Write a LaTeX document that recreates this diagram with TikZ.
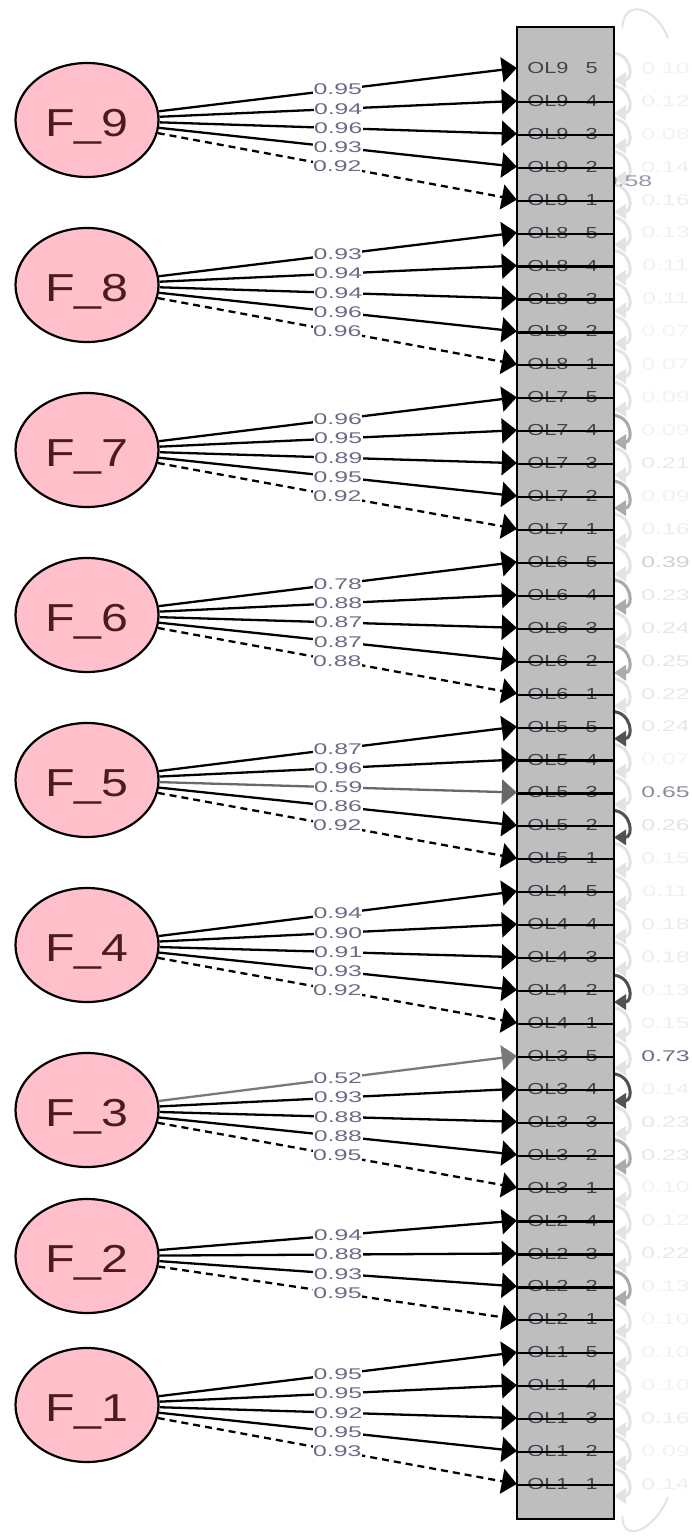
\documentclass[tikz,border=0pt]{standalone}
\usepackage{fontspec}
\setmainfont{Liberation Sans}
\usetikzlibrary{arrows.meta,shapes.geometric}
\definecolor{latfill}{HTML}{FFC0CB}
\definecolor{boxfill}{HTML}{BEBEBE}
\definecolor{labcol}{HTML}{6A6C86}
\definecolor{indcol}{HTML}{42424E}
\definecolor{latcol}{HTML}{4B1C1C}
\definecolor{reslight}{HTML}{E3E3E3}
\definecolor{resmid}{HTML}{ABABAB}
\definecolor{resdark}{HTML}{525252}
\definecolor{edgegray}{HTML}{686868}
\definecolor{edgegrayb}{HTML}{7A7A7A}
\tikzset{
  latent/.style={ellipse, draw=black, line width=2.2pt, fill=latfill, minimum width=143pt, minimum height=114pt, inner sep=0pt},
  lattext/.style={text=latcol, inner sep=0pt, font=\fontsize{39}{39}\selectfont},
  ind/.style={rectangle, minimum width=97pt, minimum height=32.93pt, inner sep=0pt},
  indtext/.style={text=indcol, inner sep=0pt, font=\fontsize{16}{16}\selectfont},
  bigbox/.style={rectangle, draw=black, line width=2.8pt, fill=boxfill, minimum width=97pt, minimum height=1492pt, inner sep=0pt},
  cellline/.style={draw=black, line width=2.2pt},
  ldedge/.style={line width=2.3pt, -{Triangle[length=15pt,width=25pt]}},
  lsolid/.style={draw=black},
  ldash/.style={draw=black, dash pattern=on 7pt off 5pt},
  lgray/.style={draw=edgegray},
  lgrayb/.style={draw=edgegrayb},
  elabel/.style={fill=white, inner xsep=0.5pt, inner ysep=1.5pt, text=labcol, font=\fontsize{15.5}{15.5}\selectfont},
  resid/.style={line width=3pt, -{Triangle[length=12pt,width=15pt]}},
  rlabel/.style={inner sep=0pt, font=\fontsize{15.5}{15.5}\selectfont},
  arcline/.style={draw=reslight, line width=2pt},
}
\def\edgelist{F9/1/0.95/lsolid, F9/2/0.94/lsolid, F9/3/0.96/lsolid, F9/4/0.93/lsolid, F9/5/0.92/ldash,
F8/6/0.93/lsolid, F8/7/0.94/lsolid, F8/8/0.94/lsolid, F8/9/0.96/lsolid, F8/10/0.96/ldash,
F7/11/0.96/lsolid, F7/12/0.95/lsolid, F7/13/0.89/lsolid, F7/14/0.95/lsolid, F7/15/0.92/ldash,
F6/16/0.78/lsolid, F6/17/0.88/lsolid, F6/18/0.87/lsolid, F6/19/0.87/lsolid, F6/20/0.88/ldash,
F5/21/0.87/lsolid, F5/22/0.96/lsolid, F5/23/0.59/lgray, F5/24/0.86/lsolid, F5/25/0.92/ldash,
F4/26/0.94/lsolid, F4/27/0.90/lsolid, F4/28/0.91/lsolid, F4/29/0.93/lsolid, F4/30/0.92/ldash,
F3/31/0.52/lgrayb, F3/32/0.93/lsolid, F3/33/0.88/lsolid, F3/34/0.88/lsolid, F3/35/0.95/ldash,
F2/36/0.94/lsolid, F2/37/0.88/lsolid, F2/38/0.93/lsolid, F2/39/0.95/ldash,
F1/40/0.95/lsolid, F1/41/0.95/lsolid, F1/42/0.92/lsolid, F1/43/0.95/lsolid, F1/44/0.93/ldash}
\begin{document}
\begin{tikzpicture}[x=1pt,y=-1pt]
\useasboundingbox (0,0) rectangle (691,1538);
% residual loops (drawn behind the box)
\foreach \i in {1,...,44} {
  \pgfmathsetmacro\yy{68+(\i-1)*32.93}
  \coordinate (ra\i) at (612,\yy-15);
  \coordinate (rb\i) at (614,\yy+12);
}
\foreach \i in {1,...,44} {
  \draw[resid, reslight] (ra\i) .. controls +(20,0) and +(20,0) .. (rb\i);
}
\foreach \i/\c in {12/resmid, 14/resmid, 17/resmid, 19/resmid, 34/resmid, 38/resmid, 21/resdark, 24/resdark, 29/resdark, 32/resdark} {
  \draw[resid, \c] (ra\i) .. controls +(20,0) and +(20,0) .. (rb\i);
}
% partly hidden value behind the box
\node[rlabel, text=labcol!70!white] (c58) at (628,181) {\scalebox{1.6}[1]{0.58}};
% indicator block
\node[bigbox] (box) at (565.5,773) {};
\foreach \i/\a/\b in {1/9/5, 2/9/4, 3/9/3, 4/9/2, 5/9/1,
  6/8/5, 7/8/4, 8/8/3, 9/8/2, 10/8/1,
  11/7/5, 12/7/4, 13/7/3, 14/7/2, 15/7/1,
  16/6/5, 17/6/4, 18/6/3, 19/6/2, 20/6/1,
  21/5/5, 22/5/4, 23/5/3, 24/5/2, 25/5/1,
  26/4/5, 27/4/4, 28/4/3, 29/4/2, 30/4/1,
  31/3/5, 32/3/4, 33/3/3, 34/3/2, 35/3/1,
  36/2/4, 37/2/3, 38/2/2, 39/2/1,
  40/1/5, 41/1/4, 42/1/3, 43/1/2, 44/1/1} {
  \pgfmathsetmacro\yy{68+(\i-1)*32.93}
  \node[ind] (I\i) at (565.5,\yy) {};
  \node[indtext] (T\i) at (562.5,\yy) {\scalebox{1.36}[1]{OL\a\hspace{12.5pt}\b}};
}
\foreach \i in {2,...,44} {
  \draw[cellline] ([yshift=-1pt]I\i.west) -- ([yshift=-1pt]I\i.east);
}
% latent variables
\foreach \n/\yy in {9/120, 8/285, 7/450, 6/615, 5/780, 4/945, 3/1110, 2/1256, 1/1405} {
  \node[latent] (F\n) at (87,\yy) {};
  \node[lattext] (L\n) at ([yshift=-7pt]F\n.center) {\scalebox{1.24}[1]{F\_\n}};
}
% loadings
\foreach \f/\t/\l/\s in \edgelist {
  \draw[ldedge,\s] (\f) -- (I\t.west);
}
\foreach \f/\t/\l/\s in \edgelist {
  \path (\f) -- (I\t.west) node[elabel, midway] (E\t) {\scalebox{1.6}[1]{\l}};
}
% faint loops at the top and bottom
\coordinate (tarc) at (668,38);
\coordinate (barc) at (668,1497);
\draw[arcline] ([xshift=7pt,yshift=-3pt]box.north east) .. controls +(0,-30) and (655,5) .. (tarc);
\draw[arcline] ([xshift=7pt,yshift=4pt]box.south east) .. controls +(0,28) and (655,1530) .. (barc);
% residual values
\foreach \i/\v in {1/0.10, 2/0.12, 3/0.08, 4/0.14, 5/0.16, 6/0.13, 7/0.11, 8/0.11, 9/0.07, 10/0.07,
  11/0.09, 12/0.09, 13/0.21, 14/0.09, 15/0.16, 16/0.39, 17/0.23, 18/0.24, 19/0.25, 20/0.22,
  21/0.24, 22/0.07, 23/0.65, 24/0.26, 25/0.15, 26/0.11, 27/0.18, 28/0.18, 29/0.13, 30/0.15,
  31/0.73, 32/0.14, 33/0.23, 34/0.23, 35/0.10, 36/0.12, 37/0.22, 38/0.13, 39/0.10,
  40/0.10, 41/0.10, 42/0.16, 43/0.09, 44/0.14} {
  \pgfmathsetmacro\yy{68+(\i-1)*32.93}
  \pgfmathtruncatemacro\pp{min(100,8+\v*\v*170)}
  \node[rlabel, text=labcol!\pp!white] (R\i) at (665.5,\yy) {\scalebox{1.6}[1]{\v}};
}
\end{tikzpicture}
\end{document}
